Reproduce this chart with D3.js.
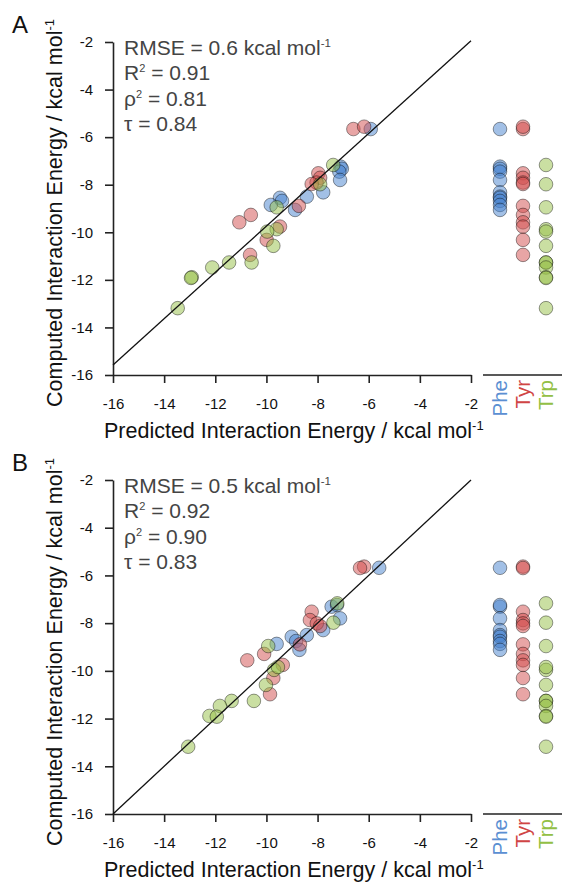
<!DOCTYPE html>
<html>
<head>
<meta charset="utf-8">
<script src="https://cdn.jsdelivr.net/npm/d3@7"></script>
<style>
  body { margin: 0; background: #fff; }
  svg text { font-family: "Liberation Sans", Arial, Helvetica, sans-serif; }
</style>
</head>
<body>
<div id="chart"></div>
<script>
// axis ticks (kcal/mol)
var xTicks = [-16, -14, -12, -10, -8, -6, -4, -2];
var yTicks = [-16, -14, -12, -10, -8, -6, -4, -2];
var residues = ["Phe", "Tyr", "Trp"];

// [predicted, computed] pairs, panel A
var pheA = [[-5.92,-5.66],[-7.10,-7.24],[-7.05,-7.33],[-7.15,-7.45],[-7.12,-7.80],[-7.78,-8.32],
            [-8.42,-8.50],[-9.47,-8.55],[-9.39,-8.68],[-9.83,-8.85],[-8.88,-9.06]];
var tyrA = [[-6.60,-5.66],[-6.18,-5.56],[-7.97,-7.52],[-7.90,-7.71],[-8.04,-7.91],[-8.23,-7.97],
            [-8.73,-8.89],[-10.61,-9.27],[-11.06,-9.58],[-9.47,-9.76],[-9.99,-10.32],[-10.64,-10.95]];
var trpA = [[-7.39,-7.17],[-7.90,-7.98],[-9.60,-8.95],[-9.60,-9.87],[-9.97,-9.97],[-9.73,-10.57],
            [-10.58,-11.27],[-11.46,-11.27],[-12.12,-11.48],[-12.92,-11.89],[-12.95,-11.92],[-13.47,-13.19]];

// panel B
var pheB = [[-5.59,-5.68],[-7.45,-7.31],[-7.24,-7.24],[-7.12,-7.80],[-7.78,-8.29],[-8.42,-8.50],
            [-9.01,-8.57],[-8.84,-8.75],[-9.60,-8.87],[-8.71,-9.12]];
var tyrB = [[-6.18,-5.63],[-6.34,-5.69],[-8.23,-7.52],[-8.30,-7.87],[-8.03,-8.01],[-7.90,-8.12],
            [-8.69,-8.89],[-10.09,-9.29],[-10.75,-9.56],[-9.36,-9.75],[-9.73,-10.30],[-9.86,-10.98]];
var trpB = [[-7.23,-7.17],[-7.38,-7.98],[-9.93,-8.96],[-9.70,-9.96],[-9.55,-9.84],[-10.02,-10.59],
            [-10.49,-11.26],[-11.36,-11.26],[-11.82,-11.47],[-12.23,-11.89],[-11.94,-11.92],[-13.06,-13.18]];

// fitted lines
var fitA = [[-16,-15.58],[-2,-1.95]];
var fitB = [[-16,-16],[-2,-2]];

// stats: label, superscript, value
var statsA = [["RMSE", "", "0.6 kcal mol"], ["R", "2", "0.91"], ["\u03c1", "2", "0.81"], ["\u03c4", "", "0.84"]];
var statsB = [["RMSE", "", "0.5 kcal mol"], ["R", "2", "0.92"], ["\u03c1", "2", "0.90"], ["\u03c4", "", "0.83"]];

var fills = ["rgba(70,130,205,0.5)", "rgba(210,75,75,0.5)", "rgba(150,192,70,0.5)"];
var textColors = ["#5b8fd2", "#d04545", "#93bf45"];

var width = 562, height = 882;
var svg = d3.select("#chart").append("svg")
    .attr("width", width).attr("height", height);

var x = d3.scaleLinear().domain([-16, -2]).range([113, 471]);
var stripX = d3.scalePoint().domain(residues).range([500, 546]);

// plain hyphen instead of d3's unicode minus
var fmt = function(d) { return String(d); };

function drawPanel(letter, top, bottom, sets, fit, stats) {
  var y = d3.scaleLinear().domain([-16, -2]).range([bottom, top]);
  var g = svg.append("g");

  // axes
  var yAxis = g.append("g").attr("transform", "translate(113,0)")
    .call(d3.axisLeft(y).tickValues(yTicks).tickFormat(fmt).tickSize(8).tickSizeOuter(0).tickPadding(12));
  var xAxis = g.append("g").attr("transform", "translate(0," + bottom + ")")
    .call(d3.axisBottom(x).tickValues(xTicks).tickFormat(fmt).tickSize(8).tickSizeOuter(0).tickPadding(15));
  [yAxis, xAxis].forEach(function(a) {
    a.selectAll("path, line").attr("stroke", "#222").attr("stroke-width", 1.6);
    a.selectAll("text").attr("font-size", "15px").attr("fill", "#111")
      .style("font-family", '"Liberation Sans", Arial, sans-serif');
  });

  // baseline under the strip columns
  g.append("line").attr("x1", 483).attr("x2", 562)
    .attr("y1", bottom).attr("y2", bottom)
    .attr("stroke", "#222").attr("stroke-width", 1.6);

  // scatter points
  sets.forEach(function(data, i) {
    g.append("g").selectAll("circle").data(data).enter().append("circle")
      .attr("cx", function(d) { return x(d[0]); })
      .attr("cy", function(d) { return y(d[1]); })
      .attr("r", 6.8)
      .attr("fill", fills[i])
      .attr("stroke", "rgba(0,0,0,0.4)")
      .attr("stroke-width", 1);
  });

  // strip columns (computed values per residue)
  sets.forEach(function(data, i) {
    g.append("g").selectAll("circle").data(data).enter().append("circle")
      .attr("cx", stripX(residues[i]))
      .attr("cy", function(d) { return y(d[1]); })
      .attr("r", 6.8)
      .attr("fill", fills[i])
      .attr("stroke", "rgba(0,0,0,0.4)")
      .attr("stroke-width", 1);
  });

  // fit line
  g.append("path")
    .attr("d", d3.line().x(function(d) { return x(d[0]); }).y(function(d) { return y(d[1]); })(fit))
    .attr("fill", "none").attr("stroke", "#111").attr("stroke-width", 1.3);

  // stats text
  stats.forEach(function(s, i) {
    var t = g.append("text").attr("x", 124).attr("y", top + 13 + i * 25.3)
      .attr("font-size", "21px").attr("fill", "#444");
    t.append("tspan").text(s[0]);
    if (s[1]) t.append("tspan").attr("dy", -8).attr("font-size", "11px").text(s[1]);
    t.append("tspan").attr("dy", s[1] ? 8 : 0).text(" = " + s[2]);
    if (i === 0) t.append("tspan").attr("dy", -8).attr("font-size", "11.5px").text("-1");
  });

  // panel letter
  g.append("text").attr("x", 12).attr("y", top - 9)
    .attr("font-size", "24px").attr("fill", "#111").text(letter);

  // y title
  var yt = g.append("text")
    .attr("transform", "translate(62," + (bottom + 32) + ") rotate(-90)")
    .attr("font-size", "21.5px").attr("fill", "#111");
  yt.append("tspan").text("Computed Interaction Energy / kcal mol");
  yt.append("tspan").attr("dy", -8).attr("font-size", "13px").text("-1");

  // x title
  var xt = g.append("text").attr("x", 104).attr("y", bottom + 63)
    .attr("font-size", "21.5px").attr("fill", "#111");
  xt.append("tspan").text("Predicted Interaction Energy / kcal mol");
  xt.append("tspan").attr("dy", -8).attr("font-size", "13px").text("-1");

  // strip labels
  residues.forEach(function(r, i) {
    g.append("text")
      .attr("transform", "translate(" + (stripX(r) + 7) + "," + (bottom + 5) + ") rotate(-90)")
      .attr("text-anchor", "end")
      .attr("font-size", "20.5px").attr("fill", textColors[i]).text(r);
  });
}

drawPanel("A", 42, 375, [pheA, tyrA, trpA], fitA, statsA);
drawPanel("B", 480, 814, [pheB, tyrB, trpB], fitB, statsB);
</script>
</body>
</html>
